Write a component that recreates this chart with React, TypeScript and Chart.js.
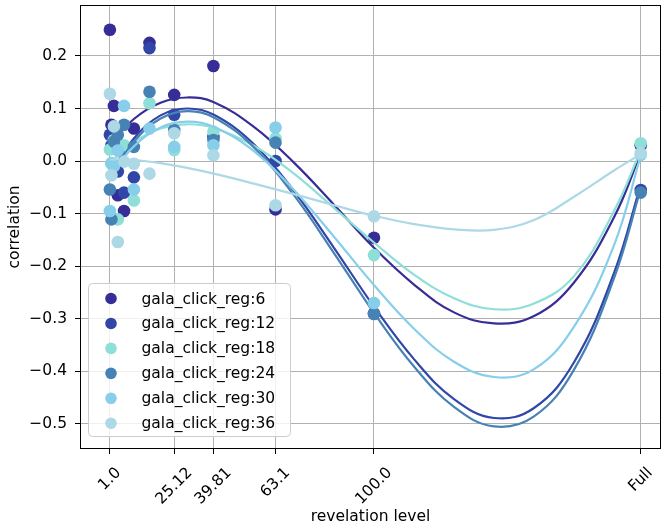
import React, { useEffect, useRef } from "react";
import { Chart, registerables } from "chart.js";
Chart.register(...registerables);

const SERIES_NAMES = [
  "gala_click_reg:6",
  "gala_click_reg:12",
  "gala_click_reg:18",
  "gala_click_reg:24",
  "gala_click_reg:30",
  "gala_click_reg:36",
];
const SERIES_COLORS = ["#372d96", "#3246a8", "#8edfd7", "#4682b4", "#87ceeb", "#add8e6"];

const POINT_X = [1, 1.58, 2.51, 3.98, 6.31, 10, 15.85, 25.12, 39.81, 63.1, 100, 200];
const VALUES_6 = [0.25, 0.069, 0.105, -0.065, -0.095, 0.062, 0.225, 0.126, 0.181, -0.092, -0.146, 0.03];
const VALUES_12 = [0.05, 0.03, 0.06, -0.02, -0.06, -0.031, 0.215, 0.088, 0.046, 0.0, -0.29, -0.055];
const VALUES_18 = [0.022, -0.005, 0.04, -0.111, 0.03, -0.075, 0.11, 0.021, 0.056, 0.043, -0.179, 0.034];
const VALUES_24 = [-0.054, -0.111, 0.037, 0.05, 0.069, 0.027, 0.132, 0.059, 0.04, 0.035, -0.291, -0.06];
const VALUES_30 = [-0.095, -0.004, -0.01, 0.02, 0.105, -0.054, 0.062, 0.027, 0.03, 0.064, -0.27, 0.012];
const VALUES_36 = [0.128, -0.027, 0.066, -0.154, -0.001, -0.005, -0.024, 0.053, 0.011, -0.084, -0.105, 0.015];

const CURVE_X = [1, 10, 20, 30, 40, 55, 70, 85, 100, 115, 130, 145, 160, 175, 190, 200];
const CURVE_6 = [0.03, 0.08, 0.111, 0.121, 0.112, 0.065, -0.003, -0.083, -0.165, -0.235, -0.288, -0.309, -0.295, -0.231, -0.107, 0.015];
const CURVE_12 = [-0.024, 0.043, 0.087, 0.1, 0.088, 0.032, -0.057, -0.165, -0.277, -0.377, -0.453, -0.489, -0.47, -0.383, -0.213, -0.045];
const CURVE_18 = [-0.004, 0.036, 0.062, 0.07, 0.063, 0.029, -0.024, -0.089, -0.155, -0.216, -0.261, -0.282, -0.271, -0.219, -0.095, 0.02];
const CURVE_24 = [-0.032, 0.037, 0.081, 0.095, 0.083, 0.026, -0.065, -0.175, -0.289, -0.391, -0.468, -0.505, -0.486, -0.397, -0.223, -0.053];
const CURVE_30 = [-0.028, 0.028, 0.064, 0.075, 0.065, 0.019, -0.055, -0.144, -0.236, -0.319, -0.382, -0.411, -0.396, -0.315, -0.16, 0.01];
const CURVE_36 = [0.003, 0.002, -0.004, -0.013, -0.024, -0.043, -0.063, -0.084, -0.104, -0.12, -0.13, -0.131, -0.112, -0.068, -0.018, 0.013];

const X_TICKS = [1, 25.12, 39.81, 63.1, 100, 200];
const X_TICK_LABELS = ["1.0", "25.12", "39.81", "63.1", "100.0", "Full"];
const Y_TICKS = [-0.5, -0.4, -0.3, -0.2, -0.1, 0, 0.1, 0.2];
const X_TITLE = "revelation level";
const Y_TITLE = "correlation";

const SERIES_VALUES = [VALUES_6, VALUES_12, VALUES_18, VALUES_24, VALUES_30, VALUES_36];
const SERIES_CURVES = [CURVE_6, CURVE_12, CURVE_18, CURVE_24, CURVE_30, CURVE_36];

const FONT_FAMILY = '"DejaVu Sans", sans-serif';
const FONT_SIZE = 15.5;

function fmtY(v: number): string {
  if (Math.abs(v) < 1e-9) return "0.0";
  const s = v.toFixed(1);
  return s.replace("-", "\u2212");
}

const overlayPlugin = {
  id: "overlay",
  afterDraw(chart: any) {
    const { ctx, chartArea: a, scales } = chart;
    ctx.save();
    ctx.strokeStyle = "#000";
    ctx.lineWidth = 1;
    const l = Math.round(a.left) + 0.5;
    const t = Math.round(a.top) + 0.5;
    const r = Math.round(a.right) - 0.5;
    const b = Math.round(a.bottom) - 0.5;
    ctx.strokeRect(l, t, r - l, b - t);

    ctx.font = `${FONT_SIZE}px ${FONT_FAMILY}`;
    ctx.fillStyle = "#000";
    ctx.textAlign = "center";
    ctx.textBaseline = "middle";
    X_TICKS.forEach((v, i) => {
      const label = X_TICK_LABELS[i];
      const x = scales.x.getPixelForValue(v);
      const w = ctx.measureText(label).width;
      const cy = a.bottom + 16 + (w + FONT_SIZE) / (2 * Math.SQRT2);
      ctx.save();
      ctx.translate(x, cy);
      ctx.rotate(-Math.PI / 4);
      ctx.fillText(label, 0, 0);
      ctx.restore();
    });

    ctx.fillText(X_TITLE, (a.left + a.right) / 2, 517);
    ctx.save();
    ctx.translate(15, (a.top + a.bottom) / 2);
    ctx.rotate(-Math.PI / 2);
    ctx.fillText(Y_TITLE, 0, 0);
    ctx.restore();

    const lx = 88.5, ly = 283.5, lw = 202, lh = 153, rad = 4;
    ctx.beginPath();
    ctx.moveTo(lx + rad, ly);
    ctx.lineTo(lx + lw - rad, ly);
    ctx.arcTo(lx + lw, ly, lx + lw, ly + rad, rad);
    ctx.lineTo(lx + lw, ly + lh - rad);
    ctx.arcTo(lx + lw, ly + lh, lx + lw - rad, ly + lh, rad);
    ctx.lineTo(lx + rad, ly + lh);
    ctx.arcTo(lx, ly + lh, lx, ly + lh - rad, rad);
    ctx.lineTo(lx, ly + rad);
    ctx.arcTo(lx, ly, lx + rad, ly, rad);
    ctx.closePath();
    ctx.fillStyle = "rgba(255,255,255,0.8)";
    ctx.fill();
    ctx.strokeStyle = "#cccccc";
    ctx.lineWidth = 1;
    ctx.stroke();

    ctx.textAlign = "left";
    ctx.textBaseline = "middle";
    SERIES_NAMES.forEach((name, i) => {
      const ry = 298.5 + i * 24.95;
      ctx.beginPath();
      ctx.arc(111, ry, 5.8, 0, Math.PI * 2);
      ctx.fillStyle = SERIES_COLORS[i];
      ctx.fill();
      ctx.fillStyle = "#000";
      ctx.fillText(name, 141.5, ry + 1);
    });
    ctx.restore();
  },
};

export default function App() {
  const ref = useRef<HTMLCanvasElement>(null);
  useEffect(() => {
    const datasets: any[] = [];
    let k = 0;
    SERIES_NAMES.forEach((name, i) => {
      datasets.push({
        type: "scatter",
        label: name,
        data: POINT_X.map((x, j) => ({ x, y: SERIES_VALUES[i][j] })),
        backgroundColor: SERIES_COLORS[i],
        borderWidth: 0,
        pointRadius: 6.3,
        pointHoverRadius: 6.3,
        order: 100 - k++,
      });
      datasets.push({
        type: "line",
        label: name + " fit",
        data: CURVE_X.map((x, j) => ({ x, y: SERIES_CURVES[i][j] })),
        borderColor: SERIES_COLORS[i],
        borderWidth: 2.2,
        pointRadius: 0,
        fill: false,
        tension: 0.4,
        order: 100 - k++,
      });
    });

    const chart = new Chart(ref.current as HTMLCanvasElement, {
      type: "scatter",
      data: { datasets },
      options: {
        animation: false,
        responsive: false,
        devicePixelRatio: 1,
        events: [],
        layout: { autoPadding: false, padding: { top: 5, right: 2, left: 0, bottom: 0 } },
        plugins: { legend: { display: false }, tooltip: { enabled: false } },
        scales: {
          x: {
            type: "linear",
            min: -10.2,
            max: 207.6,
            afterBuildTicks: (s: any) => {
              s.ticks = X_TICKS.map((v) => ({ value: v }));
            },
            afterFit: (s: any) => {
              s.height = 78;
              s.paddingLeft = 0;
              s.paddingRight = 0;
            },
            ticks: { display: false },
            grid: { color: "#b0b0b0", lineWidth: 1, tickColor: "#000", tickLength: 5, drawTicks: true },
            border: { display: false },
          },
          y: {
            type: "linear",
            min: -0.548,
            max: 0.297,
            afterBuildTicks: (s: any) => {
              s.ticks = Y_TICKS.map((v) => ({ value: v }));
            },
            afterFit: (s: any) => {
              s.width = 80;
              s.paddingTop = 0;
              s.paddingBottom = 0;
            },
            ticks: {
              callback: (v: any) => fmtY(Number(v)),
              color: "#000",
              padding: 8,
              font: { family: FONT_FAMILY, size: FONT_SIZE },
            },
            grid: { color: "#b0b0b0", lineWidth: 1, tickColor: "#000", tickLength: 5, drawTicks: true },
            border: { display: false },
          },
        },
      } as any,
      plugins: [overlayPlugin],
    } as any);
    return () => chart.destroy();
  }, []);
  return (
    <div style={{ position: "fixed", left: 0, top: 0, width: 663, height: 527, background: "#fff" }}>
      <canvas ref={ref} width={663} height={527} style={{ display: "block", width: 663, height: 527 }} />
    </div>
  );
}
